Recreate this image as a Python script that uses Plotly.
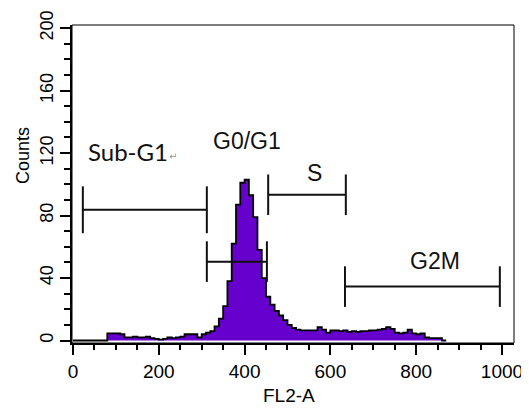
import plotly.graph_objects as go

# Histogram (FL2-A channel bins, width 10)
bin_width = 10
counts = [
    0, 0, 0, 0, 0, 0, 0, 0,            # 0-70
    4.5, 4.5, 4.5, 4, 2, 2, 2.5, 2,    # 80-150
    2, 2.5, 1.5, 1, 0.5, 1, 2, 1.5,    # 160-230
    2, 2.5, 4, 4, 4, 2, 4, 5,          # 240-310
    6, 9, 14, 22, 38, 62, 87, 101,     # 320-390
    103, 93, 79, 58, 40, 28, 23, 19,   # 400-470
    16, 13, 10, 8, 7, 6.5, 6.5, 6.5,   # 480-550
    6.5, 8.5, 7, 5, 6.5, 6.5, 6, 6.5,  # 560-630
    5.5, 6, 5.5, 6, 6, 6.5, 6.5, 7,    # 640-710
    7.5, 8.5, 7.5, 5, 4.5, 5, 7, 4.5,  # 720-790
    4, 4.5, 2, 1.5, 1.5, 1.5, 0        # 800-860
]
bin_starts = [i * bin_width for i in range(len(counts))]

# Gates
gate_names = ["Sub-G1", "G0/G1", "S", "G2M"]
gate_lo = [23, 312, 455, 634]
gate_hi = [312, 452, 636, 995]
gate_y = [83.7, 50.5, 93.3, 34.5]
gate_half = [15, 13, 13, 13]

# Gate labels (data positions)
label_x = [128, 406, 564, 844]
label_y = [121, 128, 107, 51]
label_font = ["Lato", "Liberation Sans", "Liberation Sans", "Liberation Sans"]

x_ticks = [0, 200, 400, 600, 800, 1000]
y_ticks = [0, 40, 80, 120, 160, 200]

fig = go.Figure()

hx = bin_starts + [bin_starts[-1] + bin_width]
hy = counts + [counts[-1]]
fig.add_trace(go.Scatter(
    x=hx, y=hy, mode="lines", line=dict(shape="hv", color="black", width=1.8),
    fill="tozeroy", fillcolor="#6600cc", hoverinfo="skip", showlegend=False))

for lo, hi, yl, hh in zip(gate_lo, gate_hi, gate_y, gate_half):
    fig.add_trace(go.Scatter(
        x=[lo, lo, None, lo, hi, None, hi, hi],
        y=[yl - hh, yl + hh, None, yl, yl, None, yl - hh, yl + hh],
        mode="lines", line=dict(color="#111111", width=2),
        hoverinfo="skip", showlegend=False))

for name, lx, ly, fnt in zip(gate_names, label_x, label_y, label_font):
    fig.add_annotation(x=lx, y=ly, text=name, showarrow=False,
                       font=dict(family=fnt, size=24 if fnt == "Lato" else 23, color="#111111"))
fig.add_annotation(x=233, y=118, text="↵", showarrow=False,
                   font=dict(family="DejaVu Sans", size=10, color="#999999"))

fig.add_annotation(xref="paper", yref="paper", x=-0.111, y=0.591, text="Counts",
                   textangle=-90, showarrow=False, xanchor="center", yanchor="middle",
                   font=dict(family="Liberation Sans", size=18, color="black"))
fig.add_annotation(xref="paper", yref="paper", x=0.491, y=-0.164, text="FL2-A",
                   showarrow=False, xanchor="center", yanchor="middle",
                   font=dict(family="Liberation Sans", size=19, color="black"))

fig.add_shape(type="rect", xref="paper", yref="paper", x0=0, y0=0, x1=1, y1=1,
              line=dict(color="black", width=1))

fig.update_layout(
    width=521, height=402,
    margin=dict(l=64, r=15, t=17, b=67, autoexpand=False),
    plot_bgcolor="white", paper_bgcolor="white",
    xaxis=dict(range=[-2.3, 1028], tickvals=x_ticks, showgrid=False, zeroline=False,
               showline=True, linecolor="black", linewidth=2,
               ticks="outside", ticklen=10, tickwidth=2, tickcolor="black",
               minor=dict(dtick=50, ticks="outside", ticklen=5, tickwidth=2, tickcolor="black"),
               tickfont=dict(family="Liberation Sans", size=19, color="black")),
    yaxis=dict(range=[-1.6, 202], tickvals=y_ticks, showgrid=False, zeroline=False,
               showline=True, linecolor="black", linewidth=2,
               ticks="outside", ticklen=10, tickwidth=2, tickcolor="black",
               minor=dict(dtick=10, ticks="outside", ticklen=6, tickwidth=2, tickcolor="black"),
               tickangle=-90,
               tickfont=dict(family="Liberation Sans", size=18, color="black")),
)

fig.write_html("out.html")
